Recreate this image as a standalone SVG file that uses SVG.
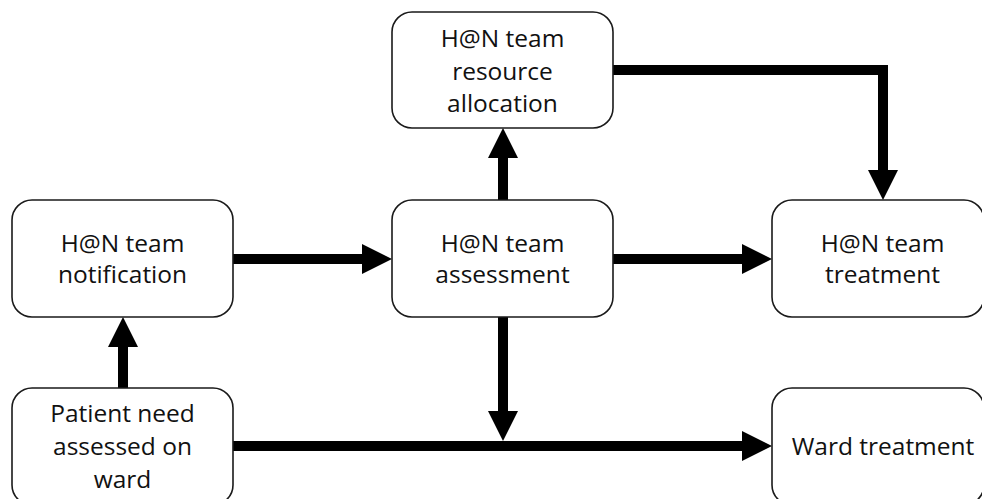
<svg xmlns="http://www.w3.org/2000/svg" width="982" height="499" viewBox="0 0 982 499">
<style>
.box{fill:#fff;stroke:#1a1a1a;stroke-width:1.6}
.lbl{font-family:"Open Sans","Noto Sans",sans-serif;font-size:24.5px;fill:#111;text-anchor:middle}
.con{fill:none;stroke:#000;stroke-width:10;stroke-linejoin:miter}
</style>
<defs>
<marker id="ah" markerUnits="userSpaceOnUse" markerWidth="30" markerHeight="30" refX="0" refY="15" orient="auto" viewBox="0 0 30 30">
<path d="M0,0 L30,15 L0,30 z" fill="#000"/>
</marker>
</defs>
<rect width="982" height="499" fill="#fff"/>
<g id="connectors">
<path class="con" d="M233,259 H362" marker-end="url(#ah)"/>
<path class="con" d="M613,259 H742" marker-end="url(#ah)"/>
<path class="con" d="M503,200 V158" marker-end="url(#ah)"/>
<path class="con" d="M613,70 H883 V170" marker-end="url(#ah)"/>
<path class="con" d="M503,317 V411" marker-end="url(#ah)"/>
<path class="con" d="M123,388 V347" marker-end="url(#ah)"/>
<path class="con" d="M233,446 H742" marker-end="url(#ah)"/>
</g>
<g id="resource">
<rect class="box" x="392" y="12" width="221" height="116" rx="20"/>
<text class="lbl" x="502.5" y="47">H@N team</text>
<text class="lbl" x="502.5" y="80">resource</text>
<text class="lbl" x="502.5" y="112">allocation</text>
</g>
<g id="notification">
<rect class="box" x="12" y="200" width="221" height="117" rx="20"/>
<text class="lbl" x="122.5" y="252">H@N team</text>
<text class="lbl" x="122.5" y="283">notification</text>
</g>
<g id="assessment">
<rect class="box" x="392" y="200" width="221" height="117" rx="20"/>
<text class="lbl" x="502.5" y="252">H@N team</text>
<text class="lbl" x="502.5" y="283">assessment</text>
</g>
<g id="treatment">
<rect class="box" x="772" y="200" width="212" height="117" rx="20"/>
<text class="lbl" x="882.5" y="252">H@N team</text>
<text class="lbl" x="882.5" y="283">treatment</text>
</g>
<g id="patient">
<rect class="box" x="12" y="388" width="221" height="117" rx="20"/>
<text class="lbl" x="122.5" y="422">Patient need</text>
<text class="lbl" x="122.5" y="455">assessed on</text>
<text class="lbl" x="122.5" y="488">ward</text>
</g>
<g id="ward">
<rect class="box" x="772" y="388" width="212" height="117" rx="20"/>
<text class="lbl" x="883" y="455">Ward treatment</text>
</g>
</svg>
